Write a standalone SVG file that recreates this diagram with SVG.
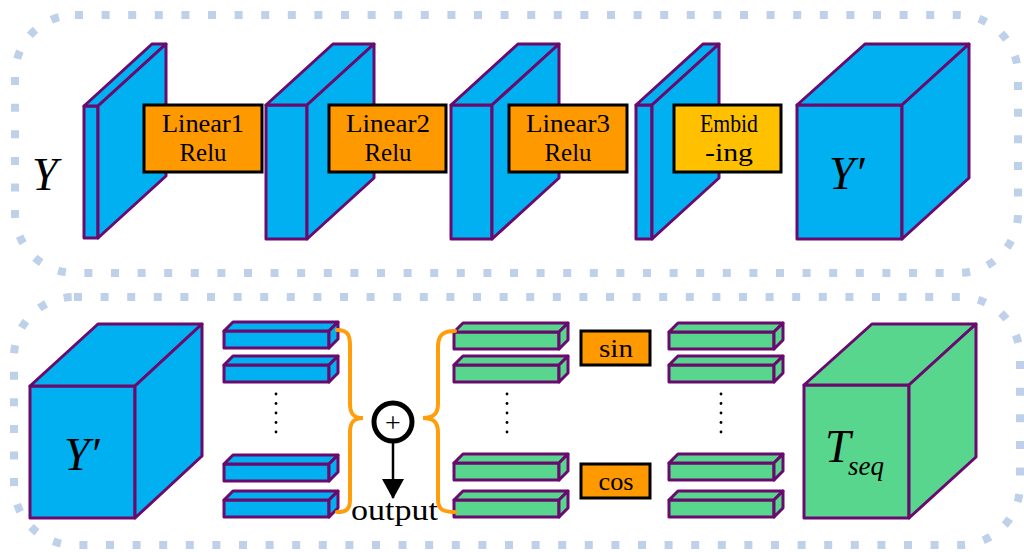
<svg xmlns="http://www.w3.org/2000/svg" width="1024" height="552" viewBox="0 0 1024 552">
  <style>
    .frame { fill: none; stroke: #bfd1ea; stroke-width: 8; stroke-dasharray: 8 18.6; }
    .blue { fill: #00b0f0; stroke: #6a0a6e; stroke-width: 3; stroke-linejoin: round; }
    .green { fill: #58d68d; stroke: #6a0a6e; stroke-width: 3; stroke-linejoin: round; }
    .op { fill: #ff9900; stroke: #000; stroke-width: 3; }
    .emb { fill: #ffc000; stroke: #000; stroke-width: 3; }
    .lbl { font-family: "Liberation Serif", "Times New Roman", serif; font-size: 25px; fill: #000; text-anchor: middle; }
    .out { font-family: "Liberation Serif", "Times New Roman", serif; font-size: 29px; fill: #000; text-anchor: middle; }
    .math { font-family: "Liberation Serif", "Times New Roman", serif; font-style: italic; fill: #000; }
    .brace { fill: none; stroke: #ff9e0a; stroke-width: 4; stroke-linecap: round; }
    .dot { fill: #000; stroke: none; }
  </style>
  <defs>
    <!-- thin bar: front face, top face, right face -->
    <g id="bar">
      <rect x="0" y="0" width="105" height="17"/>
      <polygon points="0,0 9,-9 114,-9 105,0"/>
      <polygon points="105,0 114,-9 114,8 105,17"/>
    </g>
    <g id="dots">
      <circle cx="0" cy="0" r="1.4"/>
      <circle cx="0" cy="9.5" r="1.4"/>
      <circle cx="0" cy="19" r="1.4"/>
      <circle cx="0" cy="28.5" r="1.4"/>
      <circle cx="0" cy="38" r="1.4"/>
    </g>
    <marker id="arrow" viewBox="0 0 20 22" refX="19" refY="11" markerWidth="20" markerHeight="22" markerUnits="userSpaceOnUse" orient="auto">
      <polygon points="0,0 20,11 0,22" fill="#000"/>
    </marker>
  </defs>

  <!-- dotted frames -->
  <rect class="frame" x="15" y="15" width="1003" height="258" rx="60" ry="60"/>
  <rect class="frame" x="14" y="297" width="1006" height="248" rx="60" ry="60"/>

  <!-- top row -->
  <g id="label-y">
    <text class="math" x="32" y="190" font-size="46">Y</text>
  </g>
  <g id="panel-1" class="blue">
    <rect x="84" y="106" width="14" height="132"/>
    <polygon points="84,106 152,44 166,44 98,106"/>
    <polygon points="98,106 166,44 166,176 98,238"/>
  </g>
  <g id="linear1">
    <rect class="op" x="144" y="105" width="118" height="67"/>
    <text class="lbl" x="203" y="132" textLength="82" lengthAdjust="spacingAndGlyphs">Linear1</text>
    <text class="lbl" x="203" y="161" textLength="47" lengthAdjust="spacingAndGlyphs">Relu</text>
  </g>
  <g id="panel-2" class="blue">
    <rect x="266" y="105" width="41" height="134"/>
    <polygon points="266,105 333,44 374,44 307,105"/>
    <polygon points="307,105 374,44 374,178 307,239"/>
  </g>
  <g id="linear2">
    <rect class="op" x="329" y="105" width="117" height="67"/>
    <text class="lbl" x="388" y="132" textLength="84" lengthAdjust="spacingAndGlyphs">Linear2</text>
    <text class="lbl" x="388" y="161" textLength="47" lengthAdjust="spacingAndGlyphs">Relu</text>
  </g>
  <g id="panel-3" class="blue">
    <rect x="451" y="105" width="41" height="134"/>
    <polygon points="451,105 518,44 559,44 492,105"/>
    <polygon points="492,105 559,44 559,178 492,239"/>
  </g>
  <g id="linear3">
    <rect class="op" x="509" y="105" width="118" height="67"/>
    <text class="lbl" x="568" y="132" textLength="84" lengthAdjust="spacingAndGlyphs">Linear3</text>
    <text class="lbl" x="568" y="161" textLength="47" lengthAdjust="spacingAndGlyphs">Relu</text>
  </g>
  <g id="panel-4" class="blue">
    <rect x="636" y="105" width="16" height="134"/>
    <polygon points="636,105 703,44 719,44 652,105"/>
    <polygon points="652,105 719,44 719,178 652,239"/>
  </g>
  <g id="embedding">
    <rect class="emb" x="674" y="105" width="107" height="67"/>
    <text class="lbl" x="729" y="132" textLength="58" lengthAdjust="spacingAndGlyphs">Embid</text>
    <text class="lbl" x="729" y="161" textLength="48" lengthAdjust="spacingAndGlyphs">-ing</text>
  </g>
  <g id="cube-y-prime">
    <g class="blue">
      <rect x="797" y="105" width="105" height="134"/>
      <polygon points="797,105 865,44 969,44 902,105"/>
      <polygon points="902,105 969,44 969,178 902,239"/>
    </g>
    <text class="math" x="829" y="189" font-size="46">Y′</text>
  </g>

  <!-- bottom row -->
  <g id="cube-y-prime-2">
    <g class="blue">
      <rect x="30" y="386" width="105" height="132"/>
      <polygon points="30,386 98,324 202,324 135,386"/>
      <polygon points="135,386 202,324 202,456 135,518"/>
    </g>
    <text class="math" x="64" y="470" font-size="46">Y′</text>
  </g>
  <g id="blue-bars">
    <g class="blue">
      <use href="#bar" x="224" y="331"/>
      <use href="#bar" x="224" y="365"/>
      <use href="#bar" x="224" y="464"/>
      <use href="#bar" x="224" y="500"/>
    </g>
    <use href="#dots" x="276" y="394" class="dot"/>
  </g>
  <g id="sum">
    <circle cx="393" cy="422" r="19" fill="#fff" stroke="#000" stroke-width="5"/>
    <text x="393" y="432" font-family="Liberation Serif, serif" font-size="28" text-anchor="middle">+</text>
  </g>
  <g id="output">
    <text class="out" x="394.5" y="520" textLength="87" lengthAdjust="spacingAndGlyphs">output</text>
  </g>
  <g id="green-bars-left">
    <g class="green">
      <use href="#bar" x="454" y="332"/>
      <use href="#bar" x="454" y="365"/>
      <use href="#bar" x="454" y="463"/>
      <use href="#bar" x="454" y="500"/>
    </g>
    <use href="#dots" x="507" y="394" class="dot"/>
  </g>
  <g id="sin">
    <rect class="op" x="581" y="331" width="69" height="34"/>
    <text class="lbl" x="616" y="357" textLength="34" lengthAdjust="spacingAndGlyphs">sin</text>
  </g>
  <g id="cos">
    <rect class="op" x="581" y="464" width="69" height="34"/>
    <text class="lbl" x="616" y="490" textLength="35" lengthAdjust="spacingAndGlyphs">cos</text>
  </g>
  <g id="green-bars-right">
    <g class="green">
      <use href="#bar" x="669" y="332"/>
      <use href="#bar" x="669" y="365"/>
      <use href="#bar" x="669" y="463"/>
      <use href="#bar" x="669" y="500"/>
    </g>
    <use href="#dots" x="721" y="394" class="dot"/>
  </g>
  <g id="cube-t-seq">
    <g class="green">
      <rect x="804" y="385" width="105" height="133"/>
      <polygon points="804,385 872,324 976,324 909,385"/>
      <polygon points="909,385 976,324 976,457 909,518"/>
    </g>
    <text class="math" x="825" y="462" font-size="46">T</text>
    <text class="math" x="848" y="475" font-size="27">seq</text>
  </g>

  <!-- connectors -->
  <g id="connectors">
    <path class="brace" d="M337,330 C348,330 350,335 350,346 L350,404 C350,414 354,418 363,418 C354,418 350,422 350,432 L350,499 C350,509 347,512 337,512"/>
    <path class="brace" d="M455,331 C442,331 438,336 438,347 L438,404 C438,414 433,418 423,418 C433,418 438,422 438,432 L438,499 C438,509 442,512 455,512"/>
    <line x1="393" y1="441" x2="393" y2="498" stroke="#000" stroke-width="2.5" marker-end="url(#arrow)"/>
  </g>
</svg>
